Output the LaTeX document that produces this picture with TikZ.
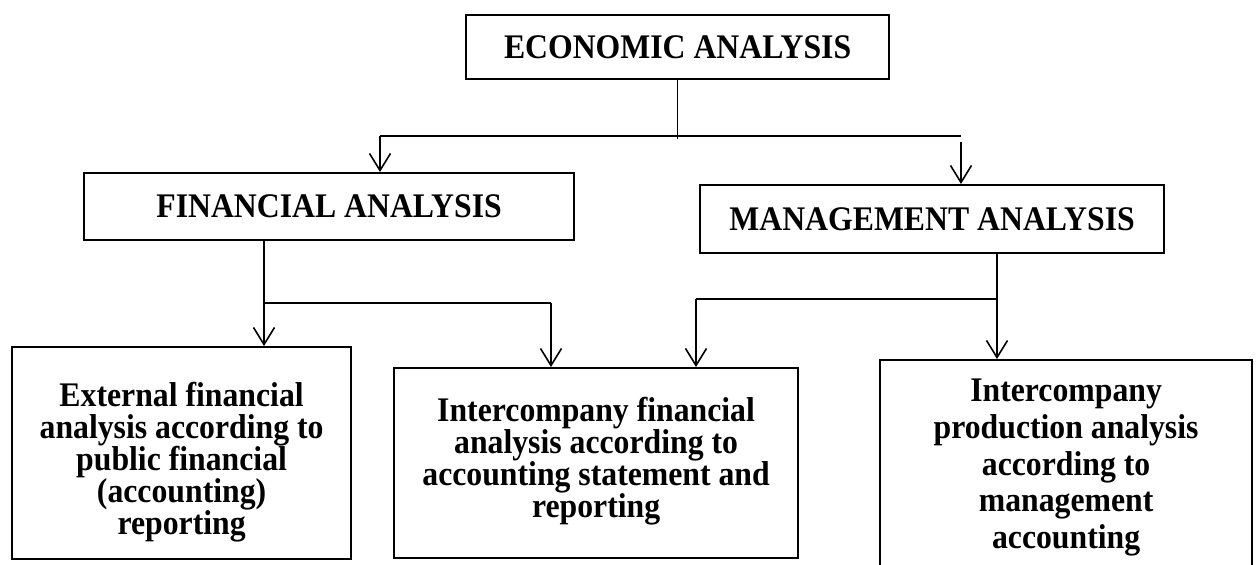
\documentclass[tikz,border=0pt]{standalone}
\usepackage{fontspec}
\setmainfont{Liberation Serif}[FakeStretch=0.92]
\usetikzlibrary{arrows.meta,calc}
\begin{document}
\begin{tikzpicture}[x=1pt,y=-1pt,
  bx/.style={draw,line width=2.2pt,inner sep=0pt,anchor=north west,
             font=\bfseries\fontsize{34.5}{32}\selectfont},
  txt/.style={inner sep=0pt,anchor=north,align=center,
             font=\bfseries\fontsize{34.5}{32}\selectfont},
  conn/.style={line width=1.2pt},
  shaft/.style={line width=2pt},
  arr/.style={line width=1.6pt,-{Straight Barb[length=17pt,width=21pt,line width=1.6pt]}}]
\useasboundingbox (0,0) rectangle (1256,565);
\clip (0,0) rectangle (1256,565);
\fill[white] (0,0) rectangle (1256,565);
% boxes
\node[bx,minimum width=423pt,minimum height=64pt] (econ) at (465,14) {ECONOMIC ANALYSIS};
\node[bx,minimum width=490pt,minimum height=67pt] (fin) at (83,172) {FINANCIAL ANALYSIS};
\node[bx,minimum width=464pt,minimum height=68pt] (man) at (699,184) {MANAGEMENT ANALYSIS};
\node[bx,minimum width=339pt,minimum height=212pt] (ext) at (11,346) {};
\node[bx,minimum width=404pt,minimum height=190pt] (mid) at (393,367) {};
\node[bx,minimum width=372pt,minimum height=260pt] (rgt) at (879,359) {};
% texts
\node[txt] (extt) at ($(ext.north)+(0,36)$) {External financial\\analysis according to\\public financial\\(accounting)\\reporting};
\node[txt] (midt) at ($(mid.north)+(0,30)$) {Intercompany financial\\analysis according to\\accounting statement and\\reporting};
\node[txt,font=\bfseries\fontsize{34.5}{36.7}\selectfont] (rgtt) at ($(rgt.north)+(0,20)$) {Intercompany\\production analysis\\according to\\management\\accounting};
% connectors from ECONOMIC
\coordinate (hl) at (380,136);
\coordinate (hr) at (961,136);
\draw[conn] (econ.south) -- ($(econ.south |- hl)+(0,3)$);
\draw[conn] (hl) -- (hr);
\draw[arr] (hl) -- (hl |- fin.north);
\draw[arr] ($(hr)+(0,6)$) -- (hr |- man.north);
% connectors from FINANCIAL
\coordinate (fa) at ($(fin.south west)+(181,0)$);
\coordinate (fb) at (264,303);
\coordinate (fc) at (551,303);
\draw[shaft] (fa) -- (fb);
\draw[arr] (fb) -- (fb |- ext.north);
\draw[conn] (fb) -- (fc);
\draw[arr] (fc) -- (fc |- mid.north);
% connectors from MANAGEMENT
\coordinate (ma) at ($(man.south west)+(298,0)$);
\coordinate (mb) at (997,299);
\coordinate (mc) at (696,299);
\draw[shaft] (ma) -- (mb);
\draw[arr] (mb) -- (mb |- rgt.north);
\draw[conn] (mb) -- (mc);
\draw[arr] (mc) -- (mc |- mid.north);
\end{tikzpicture}
\end{document}
